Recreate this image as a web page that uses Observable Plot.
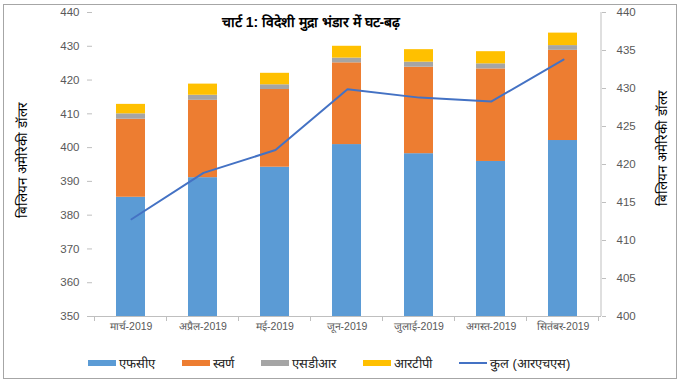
<!DOCTYPE html>
<html>
<head>
<meta charset="utf-8">
<script src="https://cdn.jsdelivr.net/npm/d3@7"></script>
<script src="https://cdn.jsdelivr.net/npm/@observablehq/plot@0.6"></script>
<style>
  html, body { margin: 0; padding: 0; background: #fff; }
  #wrap { position: relative; width: 682px; height: 384px; background: #fff; font-family: "Liberation Sans", Arial, sans-serif; overflow: hidden; }
  #border { position: absolute; left: 3px; top: 4px; width: 674px; height: 375px; border: 1.5px solid #a6a6a6; box-sizing: border-box; }
  .layer { position: absolute; left: 0; top: 0; }
  #title { position: absolute; left: 0; width: 622px; top: 12px; text-align: center; font-weight: bold; font-size: 14px; color: #000; }
  .ytitle { position: absolute; font-size: 13.5px; color: #000; white-space: nowrap; transform: translate(-50%, -50%) rotate(-90deg); }
  #legend { position: absolute; top: 354px; left: 88px; display: flex; align-items: center; font-size: 13px; color: #222; white-space: nowrap; }
  .item { display: flex; align-items: center; margin-right: 27px; white-space: nowrap; }
  .sw { width: 28px; height: 6px; margin-right: 3px; }
  .ln { width: 28px; height: 2px; margin-right: 3px; }
</style>
</head>
<body>
<div id="wrap">
  <div id="border"></div>
  <div id="p1" class="layer"></div>
  <div id="p2" class="layer"></div>
  <div id="title">चार्ट 1: विदेशी मुद्रा भंडार में घट-बढ़</div>
  <div class="ytitle" style="left:22px; top:160px;">बिलियन अमेरिकी डॉलर</div>
  <div class="ytitle" style="left:662px; top:148px;">बिलियन अमेरिकी डॉलर</div>
  <div id="legend"></div>
</div>
<script>
const months = ["मार्च-2019", "अप्रैल-2019", "मई-2019", "जून-2019", "जुलाई-2019", "अगस्त-2019", "सितंबर-2019"];
const seriesNames = ["एफसीए", "स्वर्ण", "एसडीआर", "आरटीपी"];
const lineName = "कुल (आरएचएस)";
const fca  = [385.3, 391.1, 394.2, 400.9, 398.2, 395.9, 402.1];
const gold = [23.1, 22.9, 23.0, 24.2, 25.6, 27.4, 26.7];
const sdr  = [1.6, 1.5, 1.4, 1.4, 1.5, 1.5, 1.4];
const rtp  = [2.8, 3.3, 3.4, 3.5, 3.7, 3.6, 3.7];
const total = [412.8, 418.9, 421.9, 429.9, 428.8, 428.3, 433.8];
const leftTicks = [350, 360, 370, 380, 390, 400, 410, 420, 430, 440];
const rightTicks = [400, 405, 410, 415, 420, 425, 430, 435, 440];
const colors = ["#5B9BD5", "#ED7D31", "#A5A5A5", "#FFC000"];
const lineColor = "#4472C4";

const seriesValues = [fca, gold, sdr, rtp];
const barData = [];
months.forEach((m, i) => {
  seriesNames.forEach((s, j) => barData.push({month: m, series: s, value: seriesValues[j][i]}));
});
const lineData = months.map((m, i) => ({month: m, total: total[i]}));

const W = 682, H = 340, ML = 92, MR = 81, MT = 12, MB = 24;
const textColor = "#595959";
const axisColor = "#bfbfbf";
const font = "\"Liberation Sans\", Arial, sans-serif";

const xOpts = {domain: months, paddingInner: 0.6, paddingOuter: 0.3};

const p1 = Plot.plot({
  width: W, height: H, marginLeft: ML, marginRight: MR, marginTop: MT, marginBottom: MB,
  style: {background: "transparent", fontFamily: font, fontSize: "11px", color: textColor},
  x: {...xOpts, label: null},
  y: {domain: [350, 440], label: null},
  color: {domain: seriesNames, range: colors},
  marks: [
    Plot.barY(barData, {x: "month", y: "value", fill: "series", clip: true}),
    Plot.ruleY([350], {stroke: axisColor}),
    Plot.axisY({ticks: leftTicks, tickSize: 5, tickPadding: 8, stroke: axisColor, fill: textColor, fontSize: 11.5, label: null}),
    Plot.axisX({tickSize: 0, tickPadding: 6, fill: textColor, fontSize: 10.5, label: null})
  ]
});
document.getElementById("p1").appendChild(p1);

// category boundary tick marks (Excel-style)
{
  const xs = p1.scale("x");
  const step = xs.step, bw = xs.bandwidth;
  const svg = d3.select(p1);
  const bounds = months.map(m => xs.apply(m) - (step - bw) / 2);
  bounds.push(bounds[bounds.length - 1] + step);
  const y0 = p1.scale("y").apply(350);
  svg.append("g").selectAll("line").data(bounds).join("line")
    .attr("x1", d => d).attr("x2", d => d).attr("y1", y0).attr("y2", y0 + 5)
    .attr("stroke", axisColor);
}

const p2 = Plot.plot({
  width: W, height: H, marginLeft: ML, marginRight: MR, marginTop: MT, marginBottom: MB,
  style: {background: "transparent", fontFamily: font, fontSize: "11px", color: textColor},
  x: {...xOpts, axis: null},
  y: {domain: [400, 440], label: null, axis: null},
  marks: [
    Plot.lineY(lineData, {x: "month", y: "total", stroke: lineColor, strokeWidth: 2}),
    Plot.axisY({anchor: "right", ticks: rightTicks, tickSize: 4, tickPadding: 11, stroke: axisColor, fill: textColor, fontSize: 11.5, label: null})
  ]
});
document.getElementById("p2").appendChild(p2);
{
  const ys = p2.scale("y");
  d3.select(p2).append("line")
    .attr("x1", W - MR).attr("x2", W - MR)
    .attr("y1", ys.apply(440)).attr("y2", ys.apply(400))
    .attr("stroke", axisColor);
}

// legend
const legend = document.getElementById("legend");
seriesNames.forEach((s, i) => {
  const it = document.createElement("div"); it.className = "item";
  it.innerHTML = `<span class="sw" style="background:${colors[i]}"></span><span>${s}</span>`;
  legend.appendChild(it);
});
{
  const it = document.createElement("div"); it.className = "item";
  it.innerHTML = `<span class="ln" style="background:${lineColor}"></span><span>${lineName}</span>`;
  legend.appendChild(it);
}
</script>
</body>
</html>
